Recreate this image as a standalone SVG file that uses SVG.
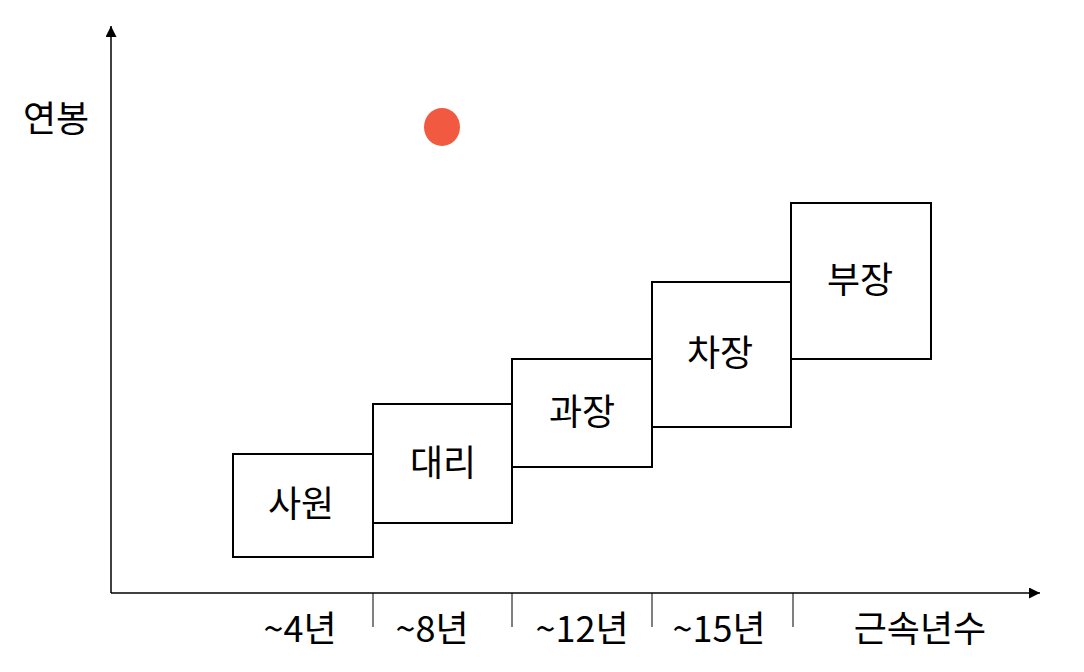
<svg xmlns="http://www.w3.org/2000/svg" width="1084" height="672" viewBox="0 0 1084 672">
<defs>
<style>
.box{fill:#fff;stroke:#000;stroke-width:2}
.lbl{font-family:"Noto Sans CJK KR","Noto Sans",sans-serif;font-size:36px;fill:#000;text-anchor:middle}
.axis{stroke:#000;stroke-width:1.5;fill:none}
.tick{stroke:#000;stroke-width:1;fill:none}
</style>
<marker id="arr" markerWidth="12" markerHeight="12" refX="11" refY="5.5" orient="auto" markerUnits="userSpaceOnUse">
<path d="M0,0 L11,5.5 L0,11 Z" fill="#000"/>
</marker>
</defs>
<rect width="1084" height="672" fill="#fff"/>
<g id="connectors">
<line class="axis" x1="111" y1="593" x2="111" y2="26" marker-end="url(#arr)"/>
<line class="axis" x1="111" y1="593" x2="1040" y2="593" marker-end="url(#arr)"/>
<line class="tick" x1="373" y1="593" x2="373" y2="627"/>
<line class="tick" x1="512" y1="593" x2="512" y2="627"/>
<line class="tick" x1="652" y1="593" x2="652" y2="627"/>
<line class="tick" x1="793" y1="593" x2="793" y2="627"/>
</g>
<g id="axis-labels">
<text class="lbl" x="56" y="132">연봉</text>
<text class="lbl" x="300" y="642">~4년</text>
<text class="lbl" x="432" y="642">~8년</text>
<text class="lbl" x="582" y="642">~12년</text>
<text class="lbl" x="719" y="642">~15년</text>
<text class="lbl" x="920" y="642">근속년수</text>
</g>
<g id="dot"><ellipse cx="442" cy="127" rx="18" ry="19" fill="#F15A40"/></g>
<g id="node-saweon"><rect class="box" x="233" y="454" width="140" height="103"/><text class="lbl" x="301" y="517">사원</text></g>
<g id="node-daeri"><rect class="box" x="373" y="404" width="139" height="119"/><text class="lbl" x="443" y="476">대리</text></g>
<g id="node-gwajang"><rect class="box" x="512" y="359" width="140" height="108"/><text class="lbl" x="582" y="425">과장</text></g>
<g id="node-chajang"><rect class="box" x="652" y="282" width="139" height="145"/><text class="lbl" x="720" y="366">차장</text></g>
<g id="node-bujang"><rect class="box" x="791" y="203" width="140" height="156"/><text class="lbl" x="860" y="293">부장</text></g>
</svg>
